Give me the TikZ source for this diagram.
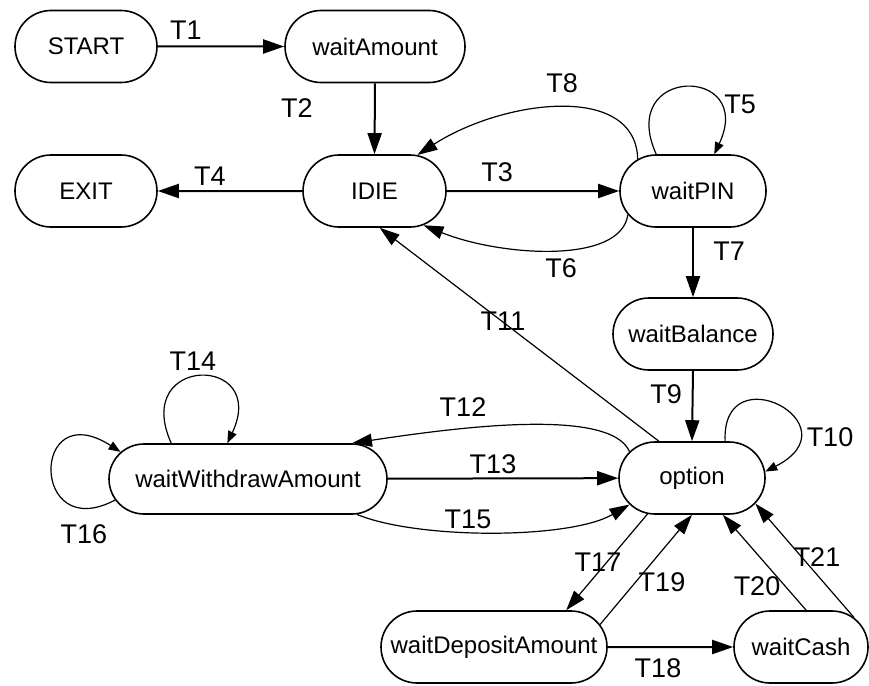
\documentclass[tikz,border=0pt]{standalone}
\usepackage{fontspec}
\setmainfont{Liberation Sans}
\usetikzlibrary{shapes.misc,arrows.meta}
\begin{document}
\begin{tikzpicture}[x=1pt,y=1pt,
  state/.style={rounded rectangle, draw, line width=1.6pt, minimum height=72pt, inner sep=0pt, font=\fontsize{24}{28}\selectfont},
  lbl/.style={font=\fontsize{27}{30}\selectfont, inner sep=0pt},
  mainarrow/.style={line width=2pt, -{Triangle[length=21pt,width=14pt]}},
  thinarrow/.style={line width=1.2pt, -{Triangle[length=20pt,width=13pt]}},
  looparrow/.style={line width=1.2pt, -{Triangle[length=12pt,width=9pt]}},
]
\useasboundingbox (0,0) rectangle (869,-685);
% states
\node[state, minimum width=142pt] (start) at (86,-46.5) {START};
\node[state, minimum width=180pt] (wa) at (375,-46.5) {waitAmount};
\node[state, minimum width=143pt] (idle) at (374.5,-191) {IDIE};
\node[state, minimum width=142pt] (exit) at (86,-191) {EXIT};
\node[state, minimum width=146pt] (pin) at (693,-191) {waitPIN};
\node[state, minimum width=160pt] (wb) at (693,-334) {waitBalance};
\node[state, minimum width=146pt] (opt) at (692,-478) {option};
\node[state, minimum width=278pt, minimum height=70pt] (ww) at (248,-479) {waitWithdrawAmount};
\node[state, minimum width=226pt] (wd) at (494,-647) {waitDepositAmount};
\node[state, minimum width=134pt] (wc) at (801,-647) {waitCash};
% straight main transitions
\draw[mainarrow] (start) -- (wa);
\draw[mainarrow] (wa.south) -- (idle.north);
\draw[mainarrow] (idle) -- (exit);
\draw[mainarrow] (idle) -- (pin);
\draw[mainarrow] (pin.south) -- (wb.north);
\draw[mainarrow] (wb.south) -- (opt.north);
\draw[mainarrow] (ww) -- (opt);
\draw[mainarrow] (wd) -- (wc);
% curved and thin transitions
\draw[thinarrow] (pin.150) .. controls +(-2,77) and +(85,55) .. (idle.40);
\draw[thinarrow] (pin.200) .. controls +(-7,-50) and +(77,-31) .. (idle.-35);
\draw[looparrow] (pin.135) .. controls +(-40,89) and +(42,89) .. (pin.60);
\draw[thinarrow] (opt.132) -- (idle.-82);
\draw[looparrow] (opt.48) .. controls +(-4,88) and +(92,47) .. (opt.5);
\draw[thinarrow] (opt.157) .. controls +(-20,45) and +(100,15) .. (ww.19);
\draw[thinarrow] (ww.-18) .. controls +(60,-25) and +(-60,-35) .. (opt.203);
\draw[looparrow] (ww.155) .. controls +(-40,89) and +(42,89) .. (ww.120);
\draw[looparrow] (ww.189) .. controls +(-85,-45) and +(-90,58) .. (ww.168);
\draw[thinarrow] (opt.219) -- (wd.27);
\draw[thinarrow] (wd.12) -- (opt.south);
\draw[thinarrow] (wc.82) -- (opt.-50);
\draw[thinarrow] (wc.29) -- (opt.-22);
% labels
\node[lbl] (lT1) at (186,-30) {T1};
\node[lbl] (lT2) at (297,-108) {T2};
\node[lbl] (lT3) at (497,-172) {T3};
\node[lbl] (lT4) at (210,-176) {T4};
\node[lbl] (lT5) at (740,-104) {T5};
\node[lbl] (lT6) at (561,-268) {T6};
\node[lbl] (lT7) at (729,-251) {T7};
\node[lbl] (lT8) at (562,-83) {T8};
\node[lbl] (lT9) at (666,-394) {T9};
\node[lbl] (lT10) at (830,-437) {T10};
\node[lbl] (lT11) at (503,-321) {T11};
\node[lbl] (lT12) at (463,-407) {T12};
\node[lbl] (lT13) at (493,-464) {T13};
\node[lbl] (lT14) at (193,-361) {T14};
\node[lbl] (lT15) at (468,-519) {T15};
\node[lbl] (lT16) at (84,-534) {T16};
\node[lbl] (lT17) at (598,-562) {T17};
\node[lbl] (lT18) at (658,-668) {T18};
\node[lbl] (lT19) at (662,-582) {T19};
\node[lbl] (lT20) at (757,-586) {T20};
\node[lbl] (lT21) at (817,-557) {T21};
\end{tikzpicture}
\end{document}
